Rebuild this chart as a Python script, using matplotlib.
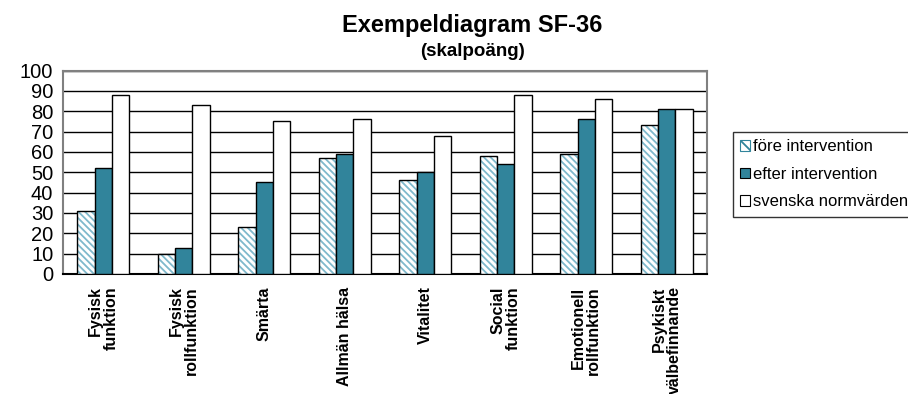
import numpy as np
import matplotlib.pyplot as plt
from matplotlib.patches import Patch

plt.rcParams['font.family'] = ['Liberation Sans', 'DejaVu Sans']
plt.rcParams['hatch.linewidth'] = 1.3

kategorier = ['Fysisk\nfunktion', 'Fysisk\nrollfunktion', 'Smärta', 'Allmän hälsa',
              'Vitalitet', 'Social\nfunktion', 'Emotionell\nrollfunktion', 'Psykiskt\nvälbefinnande']
fore = [31, 10, 23, 57, 46, 58, 59, 73]
efter = [52, 13, 45, 59, 50, 54, 76, 81]
norm = [88, 83, 75, 76, 68, 88, 86, 81]

teal = '#31849b'
hatch_col = '#7fb9cc'
streck = '\\' * 5

fig = plt.figure(figsize=(9.08, 3.94), dpi=100)
ax = fig.add_axes([0.0694, 0.3046, 0.7092, 0.5164])

x = np.arange(len(kategorier))
w = 0.216
ax.bar(x - w, fore, w, facecolor='white', edgecolor=hatch_col, hatch=streck, linewidth=0, zorder=3)
ax.bar(x - w, fore, w, facecolor='none', edgecolor='black', linewidth=1.0, zorder=4)
ax.bar(x, efter, w, facecolor=teal, edgecolor='black', linewidth=1.0, zorder=4)
ax.bar(x + w, norm, w, facecolor='white', edgecolor='black', linewidth=1.0, zorder=4)

ax.set_xlim(-0.5, len(kategorier) - 0.5)
ax.set_ylim(0, 100)
ax.set_yticks(range(0, 101, 10))
ax.yaxis.grid(True, color='black', linewidth=1.0, zorder=0)
ax.set_axisbelow(True)
ax.tick_params(axis='y', length=0, labelsize=14.5, pad=7)
ax.tick_params(axis='x', length=0, pad=9)
ax.set_xticks(x)
ax.set_xticklabels(kategorier, rotation=90, fontsize=11.5, fontweight='bold',
                   va='top', ha='center', multialignment='right', linespacing=1.0)
for s in ['top', 'right', 'left']:
    ax.spines[s].set_color('#808080')
    ax.spines[s].set_linewidth(1.5)
ax.spines['bottom'].set_color('black')
ax.spines['bottom'].set_linewidth(1.5)

fig.text(0.52, 0.935, 'Exempeldiagram SF-36', ha='center', va='center',
         fontsize=17, fontweight='bold')
fig.text(0.52, 0.87, '(skalpoäng)', ha='center', va='center',
         fontsize=13.5, fontweight='bold')

handles = [
    Patch(facecolor='white', edgecolor=teal, hatch='\\\\\\', linewidth=0.8),
    Patch(facecolor=teal, edgecolor='black', linewidth=0.8),
    Patch(facecolor='white', edgecolor='black', linewidth=0.8),
]
labels = ['före intervention', 'efter intervention', 'svenska normvärden']
leg = fig.legend(handles, labels, loc='upper left', bbox_to_anchor=(0.807, 0.665),
                 fontsize=12, frameon=True, fancybox=False, edgecolor='black',
                 handlelength=0.6, handleheight=0.6, handletextpad=0.15,
                 labelspacing=0.75, borderpad=0.45, borderaxespad=0)
leg.get_frame().set_linewidth(1.0)

fig.savefig('out.png', dpi=100)
